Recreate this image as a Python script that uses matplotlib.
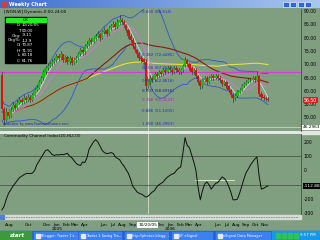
import numpy as np
import pandas as pd
import matplotlib
matplotlib.use("Agg")
import matplotlib.pyplot as plt
from matplotlib.patches import Rectangle
import matplotlib.transforms as mtrans

# weekly bars from 2004-07-09
start = "2004-07-09"
first_open = 66.0
close = [53.0, 49.0, 52.0, 50.5, 52.8, 54.7, 53.5, 55.4, 56.5, 55.8,
         57.3, 56.4, 57.7, 56.5, 58.4, 60.3, 61.0, 63.3, 64.8, 67.0,
         68.6, 69.3, 70.0, 70.8, 71.6, 73.0, 72.3, 73.8, 71.6, 72.7,
         70.8, 72.3, 70.5, 71.6, 72.3, 73.8, 75.3, 74.6, 76.8, 77.6,
         79.1, 78.3, 79.8, 80.6, 81.4, 79.8, 82.1, 82.9, 81.4, 83.6,
         84.4, 85.1, 84.0, 85.9, 86.6, 85.9, 84.7, 82.9, 80.6, 79.1,
         76.8, 75.3, 73.8, 72.5, 71.8, 70.87, 61.76, 63.3, 64.8, 64.0,
         66.3, 65.6, 67.0, 66.3, 67.8, 67.0, 68.6, 67.8, 67.0, 68.6,
         67.8, 67.0, 67.8, 69.3, 71.6, 70.0, 68.6, 67.0, 67.8, 65.6,
         63.3, 61.8, 64.0, 64.8, 63.3, 64.8, 65.6, 64.8, 65.6, 64.8,
         64.0, 62.5, 63.3, 61.8, 60.3, 58.4, 57.3, 58.0, 59.5, 60.3,
         61.8, 62.5, 63.3, 64.0, 64.0, 64.8, 64.0, 65.6, 58.8, 57.7,
         57.3, 56.9, 56.5]
high = [67.0, 54.0, 53.5, 53.0, 54.0, 55.8, 55.5, 56.5, 57.5, 57.2,
        58.3, 58.0, 58.8, 58.5, 59.3, 61.2, 62.0, 64.2, 65.7, 67.8,
        69.5, 70.3, 71.0, 71.8, 72.5, 74.0, 73.8, 74.8, 74.0, 73.6,
        73.2, 73.0, 72.8, 72.5, 73.2, 74.6, 76.2, 76.0, 77.6, 78.6,
        80.0, 79.8, 80.7, 81.5, 82.4, 81.8, 83.0, 84.0, 83.3, 84.5,
        85.3, 86.2, 85.8, 87.0, 88.6, 87.5, 86.5, 85.0, 83.2, 81.4,
        79.8, 77.8, 75.8, 74.5, 73.2, 72.5, 71.91, 64.3, 65.8, 65.6,
        67.0, 67.2, 67.8, 67.6, 68.6, 68.4, 69.3, 69.2, 68.5, 69.4,
        69.3, 68.5, 68.6, 70.0, 72.7, 72.0, 70.6, 69.2, 68.6, 68.4,
        66.0, 63.9, 64.8, 65.6, 65.4, 65.6, 66.4, 66.2, 66.4, 66.2,
        65.4, 64.5, 64.0, 63.6, 62.3, 60.8, 59.2, 59.0, 60.2, 61.0,
        62.6, 63.2, 64.0, 64.8, 65.0, 65.6, 65.4, 67.0, 66.0, 59.4,
        58.6, 57.8, 57.6]
low = [52.0, 47.5, 48.5, 49.6, 50.2, 52.4, 52.8, 53.2, 55.0, 55.0,
       55.5, 55.7, 56.0, 55.8, 56.2, 58.0, 59.8, 60.6, 62.8, 64.2,
       66.4, 68.0, 68.8, 69.4, 70.2, 71.0, 71.4, 71.8, 70.8, 70.9,
       70.0, 70.2, 69.7, 70.0, 71.0, 71.8, 73.2, 73.6, 74.0, 76.0,
       77.0, 77.5, 77.8, 79.2, 80.0, 78.8, 79.5, 81.5, 80.6, 81.0,
       83.0, 83.8, 83.2, 83.6, 85.2, 85.0, 84.0, 82.0, 79.8, 78.2,
       76.0, 74.5, 72.8, 71.6, 70.8, 70.0, 60.18, 61.0, 62.5, 63.2,
       63.6, 64.8, 65.2, 65.6, 66.0, 66.2, 66.6, 67.0, 66.2, 66.6,
       67.0, 66.2, 66.5, 67.2, 68.8, 69.4, 68.0, 66.2, 66.3, 65.0,
       62.5, 60.5, 61.0, 63.6, 62.5, 63.0, 64.2, 64.0, 64.5, 64.0,
       63.2, 61.8, 62.0, 61.0, 59.6, 57.8, 55.8, 56.6, 57.5, 59.0,
       59.8, 61.4, 62.0, 63.0, 63.3, 63.6, 63.4, 63.8, 58.2, 56.9,
       56.5, 56.2, 56.0]
# CCI(20)
cci = [-276, -250, -200, -160, -136, -110, -90, -70, -50, -40,
       -30, -22, -20, -22, -18, 0, 40, 65, 90, 115,
       140, 145, 130, 112, 105, 110, 108, 112, 110, 115,
       120, 100, 90, 70, 50, 40, 35, 60, 55, 90,
       150, 175, 200, 215, 200, 170, 140, 125, 118, 120,
       125, 120, 95, 85, 75, 50, 30, 5, -20, -60,
       -110, -130, -150, -160, -165, -175, -185, -180, -165, -150,
       -140, -115, -100, -90, -80, -60, -45, -35, -25, -20,
       0, 15, 25, 120, 230, 175, 160, 110, 60, 0,
       -120, -205, -140, -95, -80, -100, -130, -110, -90, -85,
       -65, -45, -55, -75, -110, -150, -205, -205, -200, -160,
       -110, -60, -15, 10, 38, 60, 80, 95, -40, -130,
       -125, -115, -108]

fib_ratios = ["0.000", "0.382", "0.500", "0.618", "0.707", "0.786", "0.886", "1.000"]
fib_prices = [88.614, 72.4485, 67.4552, 62.4616, 58.6916, 55.3523, 51.1205, 46.2963]
fib_colors = ["#2030c0", "#2030c0", "#2030c0", "#2030c0", "#1a1a80", "#b020b0", "#2030c0", "#2030c0"]

tick_dates = ["2004-08-01", "2004-10-01", "2004-12-01", "2005-01-01", "2005-02-01", "2005-03-01",
              "2005-04-01", "2005-06-01", "2005-07-01", "2005-08-01", "2005-09-01", "2005-12-01",
              "2006-01-01", "2006-02-01", "2006-03-01", "2006-04-01", "2006-06-01", "2006-07-01",
              "2006-08-01", "2006-09-01", "2006-10-01", "2006-11-01"]
tick_labels = ["Aug", "Oct", "Dec", "Jan\n2005", "Feb", "Mar", "Apr", "Jun", "Jul", "Aug", "Sep", "Dec",
               "Jan\n2006", "Feb", "Mar", "Apr", "Jun", "Jul", "Aug", "Sep", "Oct", "Nov"]
cursor_date = "2005-10-20"
cursor_price = 46.2963
hline_price = 66.9

info_lines = ["D: 10/20/05", "T: 00:00", "Chg: -9.11", "Chg%: -12.9", "O: 70.87", "H: 71.91", "L: 60.18", "C: 61.76"]

GREEN = "#7f9f80"
W, H = 320, 240

t0 = pd.Timestamp(start)
def widx(d):
    return (pd.Timestamp(d) - t0).days / 7.0

c = pd.Series(close)
o = [first_open] + close[:-1]
idx = np.arange(len(close))
sma5 = c.rolling(5, min_periods=1).mean()
sma10 = c.rolling(10, min_periods=1).mean()
sma40 = c.rolling(40, min_periods=1).mean()
sma100 = c.rolling(100, min_periods=1).mean()
mid = c.rolling(20, min_periods=1).mean()
sd = c.rolling(20, min_periods=2).std(ddof=0).bfill()
bb_up = mid + 2 * sd
bb_dn = mid - 2 * sd

fig = plt.figure(figsize=(3.2, 2.4), dpi=100)
fig.patch.set_facecolor(GREEN)

def box(x0, y0, x1, y1, **kw):
    return fig.add_axes([x0 / W, 1 - y1 / H, (x1 - x0) / W, (y1 - y0) / H], **kw)

# screen chrome drawn in pixel space
bg = box(0, 0, 320, 240)
bg.set_xlim(0, W)
bg.set_ylim(H, 0)
bg.axis("off")
grad = np.linspace(0, 1, 200).reshape(1, -1)
cm = matplotlib.colors.LinearSegmentedColormap.from_list("tb", ["#3f6fd0", "#a9c7ee"])
bg.imshow(grad, cmap=cm, extent=[0, W, 8.5, 0], aspect="auto")
bg.add_patch(Rectangle((1.5, 1.5), 5, 5, color="#d04040"))
bg.text(9, 4.5, "Weekly Chart", color="white", fontsize=3.6, va="center", fontweight="bold")
for bx in [283, 290, 298, 305]:
    bg.add_patch(Rectangle((bx, 1.5), 6, 5.5, facecolor="#2f66dc", edgecolor="white", lw=0.4))
# scroll strip
bg.add_patch(Rectangle((0, 214.5), 301, 4.5, color="#d6dcd2"))
bg.plot([3, 298], [216.8, 216.8], color="#7c8aa0", lw=0.6, dashes=(2, 1))
bg.add_patch(Rectangle((0, 214.5), 4, 4.5, color="#5080d0"))
# separator between panes
bg.add_patch(Rectangle((0, 131), 320, 2.5, color="#e4e8e4"))
# taskbar
bg.add_patch(Rectangle((0, 231), W, 9, color="#2a5fd6"))
bg.add_patch(Rectangle((0, 231), 31, 9, color="#3b9b3b"))
bg.text(10, 235.5, "start", color="white", fontsize=4, style="italic", fontweight="bold", va="center")
bg.add_patch(Rectangle((272, 231), 48, 9, color="#1597ea"))
bg.text(316, 235.5, "9:57 PM", color="white", fontsize=2.8, va="center", ha="right")
for x0, x1, lab in [(34, 77, "Blogger: Trader 1's..."), (79, 121, "Trader 1 Swing Tra..."),
                    (125, 168, "http://photos.blogg..."), (172, 212, "EF eSignal"),
                    (216, 270, "eSignal Data Manager")]:
    bg.add_patch(Rectangle((x0, 232), x1 - x0, 7.5, color="#3d80f0"))
    bg.add_patch(Rectangle((x0 + 1.5, 233.5), 4, 4, color="#e8e8f8"))
    bg.text(x0 + 7, 235.7, lab, color="white", fontsize=2.5, va="center")
for tx in [276, 282, 288, 294]:
    bg.add_patch(Rectangle((tx, 233), 4, 4.5, color="#30c060"))

# price pane
ax = box(0, 9, 301, 131)
ax.set_facecolor(GREEN)
ax.set_xlim(-0.9, 137.2)
ax.set_ylim(44.9, 90.75)
for s in ["top", "left", "bottom"]:
    ax.spines[s].set_visible(False)
ax.spines["right"].set_color("#405040")
ax.spines["right"].set_linewidth(0.6)
ax.set_xticks([])
ax.yaxis.tick_right()
ax.set_yticks([50, 55, 60, 65, 70, 75, 80, 85, 90])
ax.set_yticklabels(["%.2f" % v for v in [50, 55, 60, 65, 70, 75, 80, 85, 90]])
ax.tick_params(axis="y", length=0, pad=2, labelsize=3.3, labelcolor="black")

ax.plot(idx, bb_up, color="#3355cc", lw=0.6, zorder=2)
ax.plot(idx, bb_dn, color="#3355cc", lw=0.6, zorder=2)
ax.plot(idx, sma100, color="#e6e040", lw=0.8, zorder=2)
ax.plot(idx, sma40, color="#8a1c12", lw=0.8, zorder=2)
ax.plot(idx, sma10, color="#e070e0", lw=0.6, zorder=2)
ax.plot(idx, sma5, color="#d4dcd4", lw=0.6, zorder=2)
ax.axhline(hline_price, color="#d040d0", lw=0.8, zorder=2)
ax.axhline(cursor_price, color="#c8d8a0", lw=0.6, zorder=2)

for i in idx:
    up = close[i] >= o[i]
    col = "#10c010" if up else "#e01010"
    ax.plot([i, i], [low[i], high[i]], color="#202020", lw=0.4, zorder=3)
    b0, b1 = min(o[i], close[i]), max(o[i], close[i])
    ax.add_patch(Rectangle((i - 0.55, b0), 1.1, max(b1 - b0, 0.15), facecolor=col,
                           edgecolor="none", zorder=4))

cx = widx(cursor_date)
fib_x = widx(cursor_date) - 2.6
for r, p, col in zip(fib_ratios, fib_prices, fib_colors):
    ax.text(fib_x, p + 0.4, "%s (%s)" % (r, ("%.4f" % p).rstrip("0").rstrip(".")),
            color=col, fontsize=2.9, va="bottom", zorder=5)

ax.text(1, 89.8, "[WGN,W] Dynamic,0:00-24:00", fontsize=3.0, va="center", zorder=6)
ax.text(1, 47.3, "Indicator by www.PowerIndicators.com", fontsize=2.4, color="#2030a0", zorder=6)

tr = mtrans.blended_transform_factory(ax.transAxes, ax.transData)
ax.text(1.01, close[-1], "%.2f" % close[-1], transform=tr, fontsize=3.3, color="white",
        va="center", ha="left", zorder=7, clip_on=False,
        bbox=dict(boxstyle="square,pad=0.15", facecolor="#e02020", edgecolor="none"))
ax.text(1.005, cursor_price, "%.4f" % cursor_price, transform=tr, fontsize=3.1, color="black",
        va="center", ha="left", zorder=7, clip_on=False,
        bbox=dict(boxstyle="square,pad=0.15", facecolor="white", edgecolor="none"))

# info window
bg2 = box(0, 0, 320, 240, zorder=10)
bg2.set_xlim(0, W)
bg2.set_ylim(H, 0)
bg2.axis("off")
bg2.patch.set_alpha(0)
bg2.add_patch(Rectangle((5, 17), 41, 46, color="black"))
bg2.add_patch(Rectangle((5.5, 17.5), 40, 4.5, color="#22ee22"))
bg2.text(25.5, 19.8, "OK", fontsize=3, ha="center", va="center")
for k, line in enumerate(info_lines):
    lab, val = line.split(": ")
    bg2.text(21, 25.5 + k * 5, lab + ":", color="white", fontsize=2.9, ha="right", va="center")
    bg2.text(22, 25.5 + k * 5, val, color="white", fontsize=2.9, ha="left", va="center")

# CCI pane
ax2 = box(0, 134, 301, 214)
ax2.set_facecolor(GREEN)
ax2.set_xlim(-0.9, 137.2)
ax2.set_ylim(-304, 255)
for s in ["top", "left", "bottom"]:
    ax2.spines[s].set_visible(False)
ax2.spines["right"].set_color("#405040")
ax2.spines["right"].set_linewidth(0.6)
ax2.yaxis.tick_right()
ax2.set_yticks([200, 100, 0, -200, -300])
ax2.set_yticklabels(["200", "100", "0", "-200", "-300"])
ax2.tick_params(axis="y", length=0, pad=2, labelsize=3.3)
ax2.axhline(100, color="#4a5a4a", lw=0.6)
ax2.axhline(-100, color="#4a5a4a", lw=0.6)
ax2.plot([widx("2006-03-20"), widx("2006-07-25")], [-65, -65], color="#eef0c8", lw=0.6)
ax2.plot(idx, cci, color="#101010", lw=0.7)
ax2.text(1, 238, "Commodity Channel Index(20,HLC/3)", fontsize=3.0, va="center")
tr2 = mtrans.blended_transform_factory(ax2.transAxes, ax2.transData)
ax2.text(1.01, cci[-1], "%.2f" % (cci[-1] - 4.88), transform=tr2, fontsize=3.2, color="white",
         va="center", ha="left", clip_on=False,
         bbox=dict(boxstyle="square,pad=0.15", facecolor="black", edgecolor="none"))

ax2.set_xticks([widx(d) for d in tick_dates])
ax2.set_xticklabels(tick_labels)
ax2.tick_params(axis="x", length=0, pad=6.5, labelsize=3.2)
for lab in ax2.get_xticklabels():
    lab.set_linespacing(0.9)
ax2.text(cx, -380, "10/20/05", fontsize=3.1, ha="center", va="center", clip_on=False,
         bbox=dict(boxstyle="square,pad=0.2", facecolor="white", edgecolor="none"))

# crosshair vertical
ax.axvline(cx, color="#d4dcd0", lw=0.6, zorder=2)
ax2.axvline(cx, color="#d4dcd0", lw=0.6, zorder=1)

fig.savefig("out.png", dpi=100, facecolor=fig.get_facecolor())
